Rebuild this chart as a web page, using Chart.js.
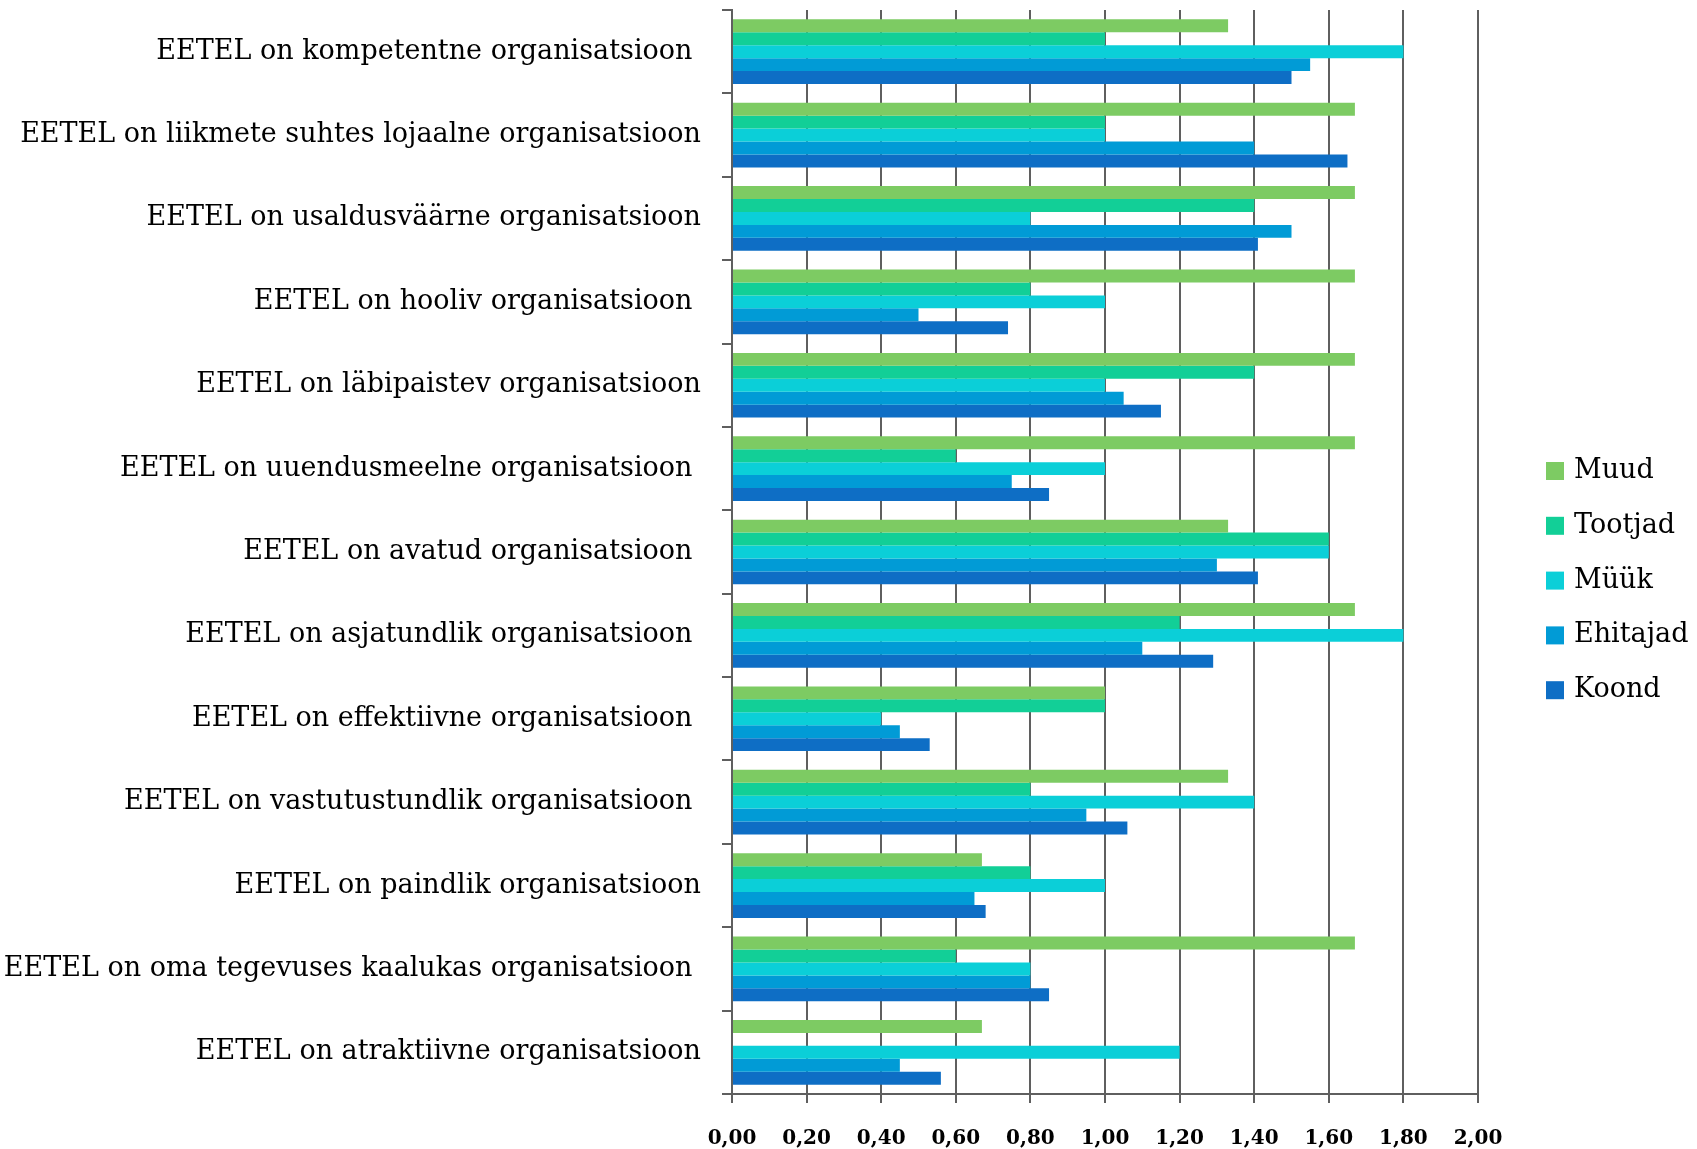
<!DOCTYPE html>
<html>
<head>
<meta charset="utf-8">
<script src="https://cdn.jsdelivr.net/npm/chart.js@4/dist/chart.umd.min.js"></script>
<style>
  body { margin: 0; background: #fff; }
</style>
</head>
<body>
<canvas id="eetelChart" width="1697" height="1149"></canvas>
<script>
// trailing spaces kept as in the original labels
const categories = [
  'EETEL on kompetentne organisatsioon ',
  'EETEL on liikmete suhtes lojaalne organisatsioon',
  'EETEL on usaldusväärne organisatsioon',
  'EETEL on hooliv organisatsioon ',
  'EETEL on läbipaistev organisatsioon',
  'EETEL on uuendusmeelne organisatsioon ',
  'EETEL on avatud organisatsioon ',
  'EETEL on asjatundlik organisatsioon ',
  'EETEL on effektiivne organisatsioon ',
  'EETEL on vastutustundlik organisatsioon ',
  'EETEL on paindlik organisatsioon',
  'EETEL on oma tegevuses kaalukas organisatsioon ',
  'EETEL on atraktiivne organisatsioon',
];

const muud     = [1.33, 1.67, 1.67, 1.67, 1.67, 1.67, 1.33, 1.67, 1.00, 1.33, 0.67, 1.67, 0.67];
const tootjad  = [1.00, 1.00, 1.40, 0.80, 1.40, 0.60, 1.60, 1.20, 1.00, 0.80, 0.80, 0.60, 0];
const myyk     = [1.80, 1.00, 0.80, 1.00, 1.00, 1.00, 1.60, 1.80, 0.40, 1.40, 1.00, 0.80, 1.20];
const ehitajad = [1.55, 1.40, 1.50, 0.50, 1.05, 0.75, 1.30, 1.10, 0.45, 0.95, 0.65, 0.80, 0.45];
const koond    = [1.50, 1.65, 1.41, 0.74, 1.15, 0.85, 1.41, 1.29, 0.53, 1.06, 0.68, 0.85, 0.56];

const seriesNames = ['Muud', 'Tootjad', 'Müük', 'Ehitajad', 'Koond'];
const xTicks = [0, 2, 0.2]; // min, max, step

const gridGray = '#5f5f5f';

// legend drawn at the right, from the datasets
const sideLegend = {
  id: 'sideLegend',
  afterDraw(chart) {
    const ctx = chart.ctx;
    ctx.save();
    ctx.font = '27px "DejaVu Serif"';
    ctx.textBaseline = 'middle';
    chart.data.datasets.forEach((ds, i) => {
      const y = 471 + i * 54.8;
      ctx.fillStyle = ds.backgroundColor;
      ctx.fillRect(1546, y - 9, 18, 18);
      ctx.fillStyle = '#000';
      ctx.fillText(ds.label, 1574, y);
    });
    ctx.restore();
  }
};

const ctx = document.getElementById('eetelChart').getContext('2d');
new Chart(ctx, {
  type: 'bar',
  data: {
    labels: categories,
    datasets: [
      { label: seriesNames[0], data: muud,     backgroundColor: '#7dcb63' },
      { label: seriesNames[1], data: tootjad,  backgroundColor: '#12cf97' },
      { label: seriesNames[2], data: myyk,     backgroundColor: '#0bcfd8' },
      { label: seriesNames[3], data: ehitajad, backgroundColor: '#019bd6' },
      { label: seriesNames[4], data: koond,    backgroundColor: '#0e6ec5' },
    ],
  },
  options: {
    indexAxis: 'y',
    responsive: false,
    animation: false,
    layout: { padding: { top: 10, right: 219, bottom: 0, left: 0 } },
    datasets: {
      bar: { categoryPercentage: 0.776, barPercentage: 1.0 },
    },
    plugins: {
      legend: { display: false },
      tooltip: { enabled: false },
    },
    scales: {
      x: {
        min: xTicks[0],
        max: xTicks[1],
        ticks: {
          stepSize: xTicks[2],
          padding: 24,
          color: '#000',
          font: { family: 'DejaVu Serif', size: 20, weight: 'bold' },
          callback: (v) => Number(v).toFixed(2).replace('.', ','),
        },
        grid: { color: gridGray, lineWidth: 2, tickLength: 9 },
        border: { display: true, color: gridGray, width: 2 },
        afterFit: (scale) => { scale.height = 55; },
      },
      y: {
        ticks: {
          padding: 21,
          color: '#000',
          font: { family: 'DejaVu Serif', size: 27 },
        },
        grid: { drawOnChartArea: false, color: gridGray, lineWidth: 2, tickLength: 10 },
        border: { display: true, color: gridGray, width: 2 },
        afterFit: (scale) => {
          scale.width = 732;
          scale.paddingTop = 0;
          scale.paddingBottom = 0;
        },
      },
    },
  },
  plugins: [sideLegend],
});
</script>
</body>
</html>
